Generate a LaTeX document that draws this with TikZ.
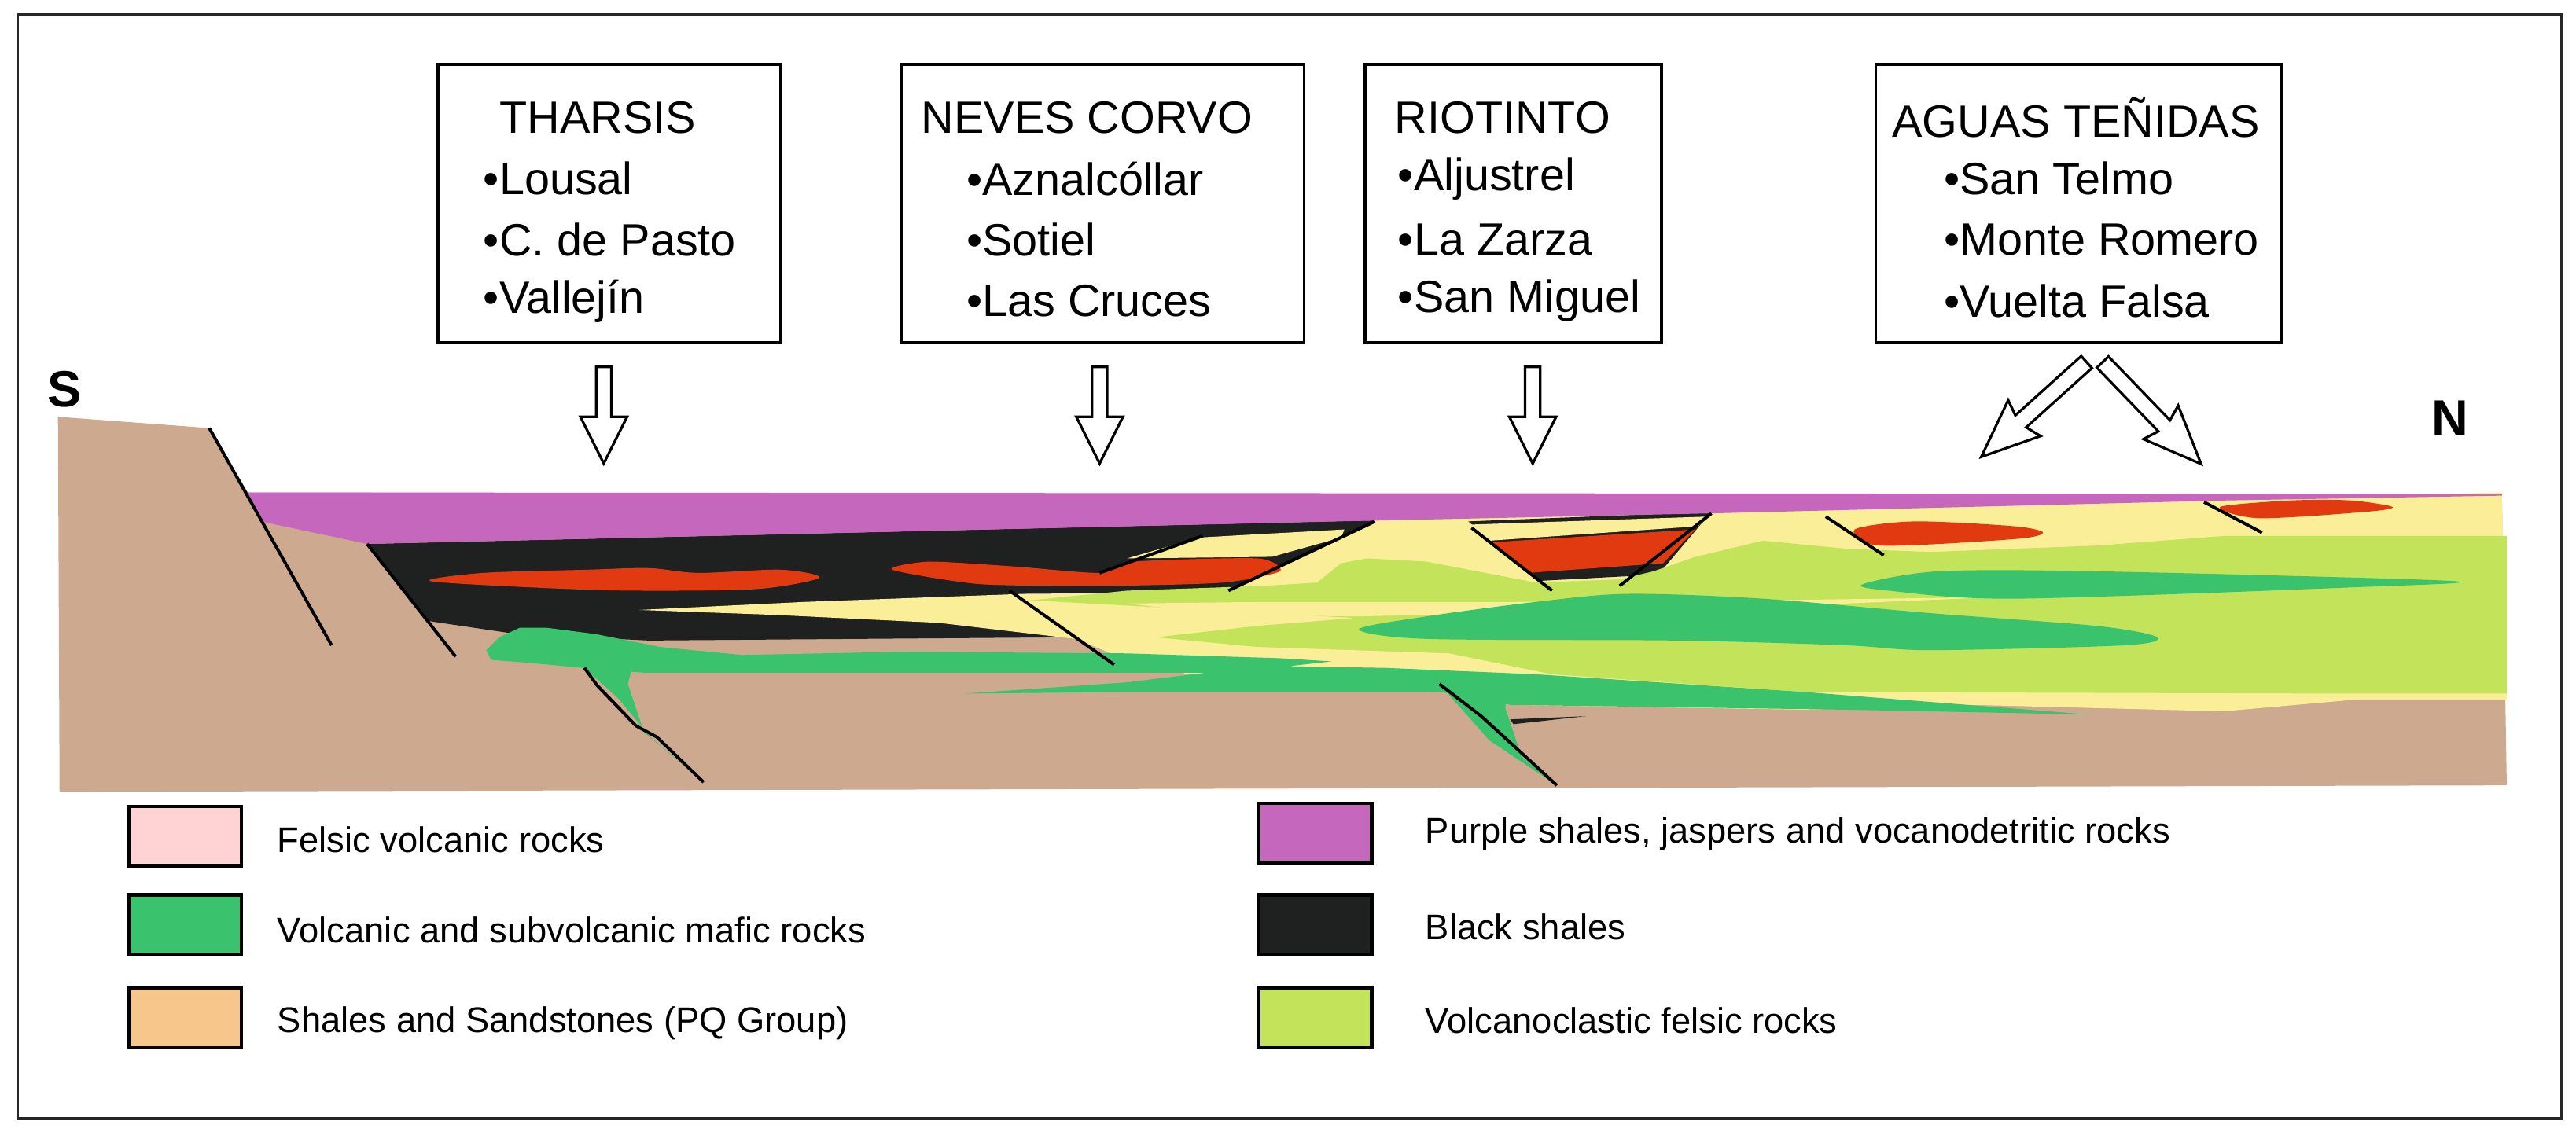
\documentclass[tikz,border=0pt]{standalone}
\usepackage{fontspec}
\setmainfont{Liberation Sans}
\definecolor{cbrown}{HTML}{CDAA8F}
\definecolor{cpurple}{HTML}{C667BE}
\definecolor{cblack}{HTML}{1F2120}
\definecolor{cred}{HTML}{E23A10}
\definecolor{cyellow}{HTML}{FBEE98}
\definecolor{clgreen}{HTML}{C2E35A}
\definecolor{cgreen}{HTML}{3BC26C}
\definecolor{cpink}{HTML}{FFD3D3}
\definecolor{corange}{HTML}{F6C68A}
\tikzset{
  fault/.style={line width=1.1pt,black},
  boxtxt/.style={anchor=west,font=\fontsize{16}{19}\selectfont,inner sep=0pt},
  legtxt/.style={anchor=west,font=\fontsize{12.6}{15}\selectfont,inner sep=0pt},
  legbox/.style={draw=black,line width=1.2pt},
  mbox/.style={draw=black,line width=1pt,fill=white},
  harrow/.pic={\draw[line width=0.9pt,fill=white] (-4.7,0)--(4.7,0)--(4.7,31)--(14.5,31)--(0,60)--(-14.5,31)--(-4.7,31)--cycle;},
  darrow/.pic={\draw[line width=0.9pt,fill=white] (-5,0)--(5,0)--(5,55)--(15,52)--(0,88)--(-15,52)--(-5,55)--cycle;}
}
\begin{document}
\begin{tikzpicture}[x=0.02cm,y=-0.02cm]
\useasboundingbox (0,0) rectangle (1600,705);
\draw[line width=1pt,draw=black!85] (11,9) rectangle (1591,695);
% brown base
\fill[cbrown] (36,259)--(130,266)--(154,306)--(1554,308)--(1557,488)--(37,492)--cycle;
% black shales
\fill[cblack] (228,338)--(870,323)--(855,323)--(763,368)--(662,372)--(662,396)--(403,398)--(321,394)--(267,386)--cycle;
% yellow
\fill[cyellow] (855,323)--(1554,306)--(1557,435)--(1460,435)--(1381,442)--(1303,440)--(1225,438)--(1121,441)--(938,438)--(896,430)--(781,429)--(700,410)--(668,397)--(583,387)--(480,382)--(397,379)--(500,374)--(636,369)--(763,368)--cycle;
\fill[cyellow] (700,347)--(745,334)--(835,329)--(833,334)--(790,346)--cycle;
% graben at Riotinto
\fill[cblack] (912,324)--(1063,318)--(1030,357)--(955,361)--cycle;
\fill[cyellow] (913,326)--(1060,321)--(1055,327)--(925,336)--cycle;
% light green volcaniclastics
\fill[clgreen] (640,373)--(700,367)--(786,364)--(818,362)--(833,350)--(849,347)--(886,349)--(954,362)--(1006,360)--(1027,355)--(1053,346)--(1095,336)--(1147,341)--(1199,343)--(1303,339)--(1382,333)--(1557,333)--(1557,431)--(1460,431)--(1121,430)--(964,419)--(781,402)--(718,396)--(780,389)--(842,384)--cycle;
\fill[cyellow] (700,375)--(786,374)--(942,374)--(1100,373)--(1240,371)--(1100,377)--(942,381)--(842,383)--(760,382)--cycle;
\fill[cyellow] (781,402)--(900,406)--(964,419)--(860,413)--cycle;
% mafic bodies
\fill[cgreen] plot[smooth cycle,tension=0.5] coordinates {(844,391)(886,383)(954,374)(1011,369)(1095,372)(1199,381)(1303,389)(1340,396)(1319,401)(1199,404)(1147,401)(1042,398)(886,397)};
\fill[cgreen] plot[smooth cycle,tension=0.5] coordinates {(1157,363)(1204,355)(1303,355)(1523,361)(1460,365)(1251,372)(1173,367)};
\fill[cgreen] (302,404)--(310,396)--(323,390)--(339,390)--(370,394)--(410,402)--(461,407)--(560,405)--(700,406)--(795,409)--(827,411)--(800,414)--(860,415)--(954,419)--(1121,430)--(1298,444)--(1147,441)--(938,438)--(895,430)--(700,430)--(599,431)--(700,424)--(749,418)--(600,418)--(400,418)--(362,415)--(330,412)--(305,410)--cycle;
\fill[cgreen] (363,415)--(392,417)--(390,425)--(400,455)--(437,486)--(404,458)--(384,434)--cycle;
\fill[cgreen] (894,425)--(936,426)--(935,440)--(945,470)--(967,488)--(925,460)--cycle;
\fill[cblack] (938,447)--(985,445)--(940,450)--cycle;
% purple
\fill[cpurple] (154,306)--(1554,307)--(1554,308)--(1382,311)--(1063,319)--(831,324)--(228,338)--(162,324)--cycle;
% ore bodies
\fill[cred] plot[smooth cycle,tension=0.5] coordinates {(267,361)(300,356)(365,354)(403,353)(434,356)(485,354)(509,359)(470,366)(392,367)(330,365)};
\fill[cred] plot[smooth cycle,tension=0.4] coordinates {(554,354)(577,349)(630,352)(683,356)(704,349)(781,347)(795,355)(760,362)(689,364)(609,363)};
\fill[cred] (926,337)--(1053,329)--(1033,350)--(949,356)--cycle;
\fill[cred] plot[smooth cycle,tension=0.5] coordinates {(1152,329)(1189,324)(1251,327)(1269,331)(1251,335)(1168,339)};
\fill[cred] plot[smooth cycle,tension=0.5] coordinates {(1379,315)(1423,311)(1460,311)(1486,315)(1470,318)(1403,322)};
% faults
\draw[fault] (130,266)--(206,401);
\draw[fault] (228,338)--(283,408);
\draw[fault] (627,367)--(692,413);
\draw[fault] (683,356)--(747,333);
\draw[fault] (763,367)--(854,324);
\draw[fault] (914,328)--(964,367);
\draw[fault] (1063,319)--(1006,364);
\draw[fault] (1134,321)--(1170,345);
\draw[fault] (1369,312)--(1405,331);
\draw[fault] (363,415)--(371,426)--(395,451)--(408,458)--(437,486);
\draw[fault] (894,425)--(920,445)--(943,466)--(967,488);
% labels S N
\node[font=\bfseries\fontsize{18}{20}\selectfont] (S) at (40,242) {S};
\node[font=\bfseries\fontsize{18}{20}\selectfont] (N) at (1522,260) {N};
% boxes
\node[mbox,minimum width=213*0.02cm,minimum height=173*0.02cm] (b1) at (378.5,126.5) {};
\node[mbox,minimum width=250*0.02cm,minimum height=173*0.02cm] (b2) at (685,126.5) {};
\node[mbox,minimum width=184*0.02cm,minimum height=173*0.02cm] (b3) at (940,126.5) {};
\node[mbox,minimum width=252*0.02cm,minimum height=173*0.02cm] (b4) at (1291,126.5) {};
\node[boxtxt] (t1a) at (310,73) {THARSIS};
\node[boxtxt] (t1b) at (300,111) {•Lousal};
\node[boxtxt] (t1c) at (300,149) {•C. de Pasto};
\node[boxtxt] (t1d) at (300,187) {•Vallejín};
\node[boxtxt] (t2a) at (572,73) {NEVES CORVO};
\node[boxtxt] (t2b) at (600,111) {•Aznalcóllar};
\node[boxtxt] (t2c) at (600,149) {•Sotiel};
\node[boxtxt] (t2d) at (600,187) {•Las Cruces};
\node[boxtxt] (t3a) at (866,73) {RIOTINTO};
\node[boxtxt] (t3b) at (868,111) {•Aljustrel};
\node[boxtxt] (t3c) at (868,149) {•La Zarza};
\node[boxtxt] (t3d) at (868,187) {•San Miguel};
\node[boxtxt] (t4a) at (1175,73) {AGUAS TEÑIDAS};
\node[boxtxt] (t4b) at (1207,111) {•San Telmo};
\node[boxtxt] (t4c) at (1207,149) {•Monte Romero};
\node[boxtxt] (t4d) at (1207,187) {•Vuelta Falsa};
% arrows
\pic at (375,228) {harrow};
\pic at (683,228) {harrow};
\pic at (952,228) {harrow};
\pic[rotate=-48] at (1296,225) {darrow};
\pic[rotate=44] at (1306,225) {darrow};
% legend
\draw[legbox,fill=cpink] (80,501) rectangle (150,538);
\draw[legbox,fill=cgreen] (80,556) rectangle (150,593);
\draw[legbox,fill=corange] (80,614) rectangle (150,651);
\node[legtxt] (l1) at (172,522) {Felsic volcanic rocks};
\node[legtxt] (l2) at (172,578) {Volcanic and subvolcanic mafic rocks};
\node[legtxt] (l3) at (172,636) {Shales and Sandstones (PQ Group)};
\draw[legbox,fill=cpurple] (782,499) rectangle (852,536);
\draw[legbox,fill=cblack] (782,556) rectangle (852,593);
\draw[legbox,fill=clgreen] (782,614) rectangle (852,651);
\node[legtxt] (l4) at (885,518) {Purple shales, jaspers and vocanodetritic rocks};
\node[legtxt] (l5) at (885,576) {Black shales};
\node[legtxt] (l6) at (885,634) {Volcanoclastic felsic rocks};
\end{tikzpicture}
\end{document}
